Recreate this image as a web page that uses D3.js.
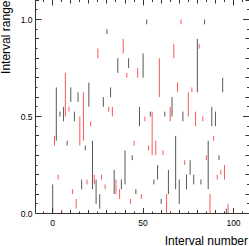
<!DOCTYPE html>
<html><head><meta charset="utf-8">
<script src="https://cdn.jsdelivr.net/npm/d3@7"></script>
<style>
html,body{margin:0;padding:0;background:#fff;overflow:hidden}
svg{display:block}
text{font-family:"Liberation Sans",Arial,Helvetica,sans-serif;fill:#000}
</style></head>
<body><svg id="c" width="249" height="246"></svg>
<script>
// interval index 0..99
const lows  = [0,0.35,0.375,0.175,0.5,0,0.475,0.5,0.35,0.525,
  0.575,0.1,0.475,0.025,0.575,0.35,0.125,0.375,0.325,0.15,
  0.55,0.45,0.125,0.15,0.05,0.8,0.025,0.175,0.55,0.125,
  0.925,0.525,0.6,0.5,0.1,0.1,0.725,0.075,0.125,0.825,
  0.15,0.7,0.75,0.05,0.275,0.35,0.1,0.7,0.45,0.075,
  0.7,0.475,0.975,0.325,0.5,0.3,0.15,0.3,0.175,0.6,
  0.05,0.3,0.5,0,0.1,0.475,0.5,0.8,0.125,0.625,
  0.05,0.975,0.475,0.25,0.125,0.5,0.2,0.625,0.15,0.45,
  0.625,0.85,0.15,0.475,0.975,0.275,0.125,0,0.45,0.375,
  0.45,0.175,0.275,0.2,0.625,0.175,0,0,0.025,0.5];
const highs = [0.15,0.4,0.65,0.2,0.525,0.02,0.55,0.725,0.375,0.55,
  0.65,0.125,0.525,0.075,0.625,0.5,0.175,0.625,0.35,0.175,
  0.675,0.475,0.375,0.2,0.175,0.85,0.1,0.2,0.6,0.15,
  0.95,0.55,0.65,0.55,0.225,0.175,0.8,0.125,0.175,0.9,
  0.325,0.725,0.8,0.075,0.3,0.375,0.125,0.75,0.55,0.1,
  0.825,0.5,1.0,0.35,0.525,0.525,0.175,0.375,0.25,0.8,
  0.075,0.325,0.525,0.1,0.225,0.55,0.6,0.875,0.4,0.675,
  0.175,1.0,0.525,0.275,0.2,0.625,0.275,0.65,0.2,0.525,
  0.9,0.875,0.175,0.5,1.0,0.3,0.375,0.1,0.55,0.4,
  0.525,0.2,0.3,0.225,0.7,0.25,0.025,0.05,0.075,0.525];
const kinds = "krkrkrkrkrkrkrkrkrkrkrkrkrkrkrkrkrkrkrkrkrkrkrkrkrkrkrkrkrkrkrkrkrkrkrkrkrkrkrkrkrkrkrkrkrkrkrkrkr".split("");
const xTickLabels = [0, 50, 100];
const yTickLabels = [0.0, 0.5, 1.0];
const xTitle = "Interval number";
const yTitle = "Interval range";

const svg = d3.select("#c");
const x = d3.scaleLinear().domain([0, 100]).range([52.69, 233.51]);
const y = d3.scaleLinear().domain([0, 1]).range([213.5, 19.5]);
const L = 35.5, R = 249.5, T = -0.5, B = 213.5;
const colors = {k: "rgba(0,0,0,0.66)", r: "rgba(255,0,0,0.66)"};

// segments
svg.append("g").selectAll("line").data(lows).join("line")
  .attr("x1", (d, i) => x(i)).attr("x2", (d, i) => x(i))
  .attr("y1", (d) => y(d)).attr("y2", (d, i) => y(highs[i]))
  .attr("stroke", (d, i) => colors[kinds[i]]).attr("stroke-width", 1);

// frame
const ax = svg.append("g").attr("stroke", "#333").attr("stroke-width", 1).attr("fill", "none");
ax.append("line").attr("x1", L).attr("x2", R).attr("y1", B).attr("y2", B);
ax.append("line").attr("x1", L).attr("x2", L).attr("y1", T).attr("y2", B);

// x ticks (inward), bottom and top
const xt = d3.range(-5, 111, 5);
xt.forEach(v => {
  const px = Math.round(x(v) - 0.5) + 0.5;
  if (px < L + 1 || px > R) return;
  const len = v % 50 === 0 ? 5.5 : (v % 10 === 0 ? 3.5 : 2);
  ax.append("line").attr("x1", px).attr("x2", px).attr("y1", B).attr("y2", B - len);
  ax.append("line").attr("x1", px).attr("x2", px).attr("y1", 0).attr("y2", len);
});
// y ticks (inward), left and right
const yt = d3.range(0, 23).map(k => k * 0.05);
yt.forEach((v, k) => {
  const py = Math.round(y(v) - 0.5) + 0.5;
  if (py < 0 || py >= B) return;
  const len = k % 10 === 0 ? 6 : (k % 2 === 0 ? 3.5 : 2);
  ax.append("line").attr("x1", L).attr("x2", L + len).attr("y1", py).attr("y2", py);
  ax.append("line").attr("x1", 249).attr("x2", 249 - len).attr("y1", py).attr("y2", py);
});

// tick labels
svg.append("g").selectAll("text").data(xTickLabels).join("text")
  .attr("x", d => x(d)).attr("y", 225.5).attr("text-anchor", "middle")
  .attr("font-size", "8.5px").text(d => d);
svg.append("g").selectAll("text").data(yTickLabels).join("text")
  .attr("x", 32.5).attr("y", d => y(d) + 3).attr("text-anchor", "end")
  .attr("font-size", "8.5px").text(d => d.toFixed(1));

// titles
svg.append("text").attr("x", 248).attr("y", 244.5).attr("text-anchor", "end")
  .attr("font-size", "12px").text(xTitle);
svg.append("text").attr("transform", "translate(10,0.5) rotate(-90)")
  .attr("x", 0).attr("y", 0).attr("text-anchor", "end")
  .attr("font-size", "12px").text(yTitle);
</script></body></html>
